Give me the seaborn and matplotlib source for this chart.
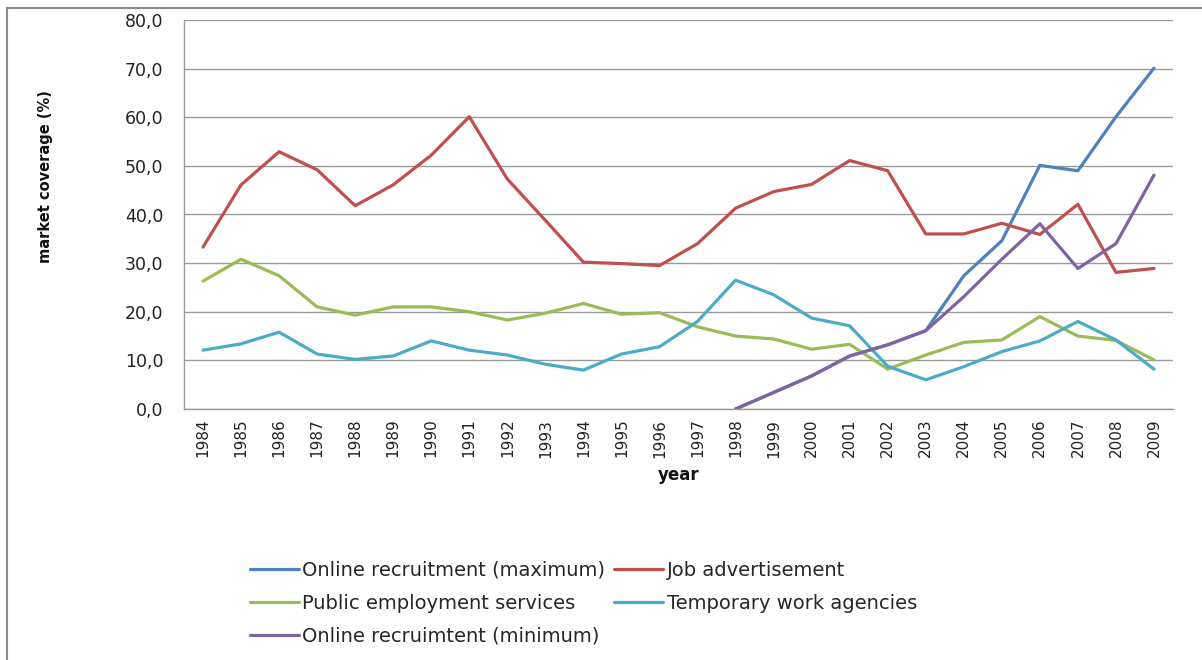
import numpy as np
import pandas as pd
import matplotlib
matplotlib.use("Agg")
import matplotlib.pyplot as plt
from matplotlib.patches import Rectangle
import seaborn as sns

# ---------------- data ----------------
years = list(range(1984, 2010))
nan = np.nan
online_max = [nan]*14 + [0.0, 3.4, 6.8, 10.9, 13.2, 16.1, 27.4, 34.6, 50.1, 49.0, 60.1, 70.1]
job_adv = [33.3, 46.1, 52.9, 49.2, 41.8, 46.1, 52.2, 60.1, 47.3, 38.8, 30.2, 29.9, 29.5,
           34.0, 41.3, 44.7, 46.2, 51.1, 49.0, 36.0, 36.0, 38.2, 35.9, 42.1, 28.1, 28.9]
public_emp = [26.3, 30.8, 27.4, 21.0, 19.3, 21.0, 21.0, 20.0, 18.3, 19.7, 21.7, 19.5, 19.8,
              16.9, 15.0, 14.4, 12.3, 13.3, 8.2, 11.1, 13.7, 14.2, 19.0, 15.0, 14.1, 10.1]
temp_work = [12.1, 13.4, 15.8, 11.3, 10.2, 10.9, 14.0, 12.1, 11.1, 9.2, 8.0, 11.3, 12.8,
             18.0, 26.5, 23.5, 18.7, 17.1, 8.8, 6.0, 8.7, 11.8, 14.0, 18.0, 14.2, 8.2]
online_min = [nan]*14 + [0.0, 3.4, 6.8, 10.9, 13.2, 16.1, 23.1, 30.8, 38.1, 28.9, 34.0, 48.1]

series_names = ["Online recruitment (maximum)", "Job advertisement",
                "Public employment services", "Temporary work agencies",
                "Online recruimtent (minimum)"]
series_values = [online_max, job_adv, public_emp, temp_work, online_min]
series_colors = ["#4F81BD", "#C0504D", "#9BBB59", "#4BACC6", "#8064A2"]

y_ticks = [0, 10, 20, 30, 40, 50, 60, 70, 80]
y_tick_labels = ["0,0", "10,0", "20,0", "30,0", "40,0", "50,0", "60,0", "70,0", "80,0"]
x_label = "year"
y_label = "market coverage (%)"

# ---------------- figure ----------------
sns.set_theme(style="white")
plt.rcParams["font.family"] = ["DejaVu Sans"]
narrow = ["DejaVu Sans Condensed", "DejaVu Sans"]

fig = plt.figure(figsize=(12.02, 6.6), dpi=100)
ax = fig.add_axes([184/1202, 1-409/660, (1173-184)/1202, (409-20)/660])

lines = {}
for name, vals, col in zip(series_names, series_values, series_colors):
    df = pd.DataFrame({"year": years, "value": vals})
    sns.lineplot(data=df, x="year", y="value", color=col, linewidth=2.3,
                 ax=ax, label=name, legend=False)
    lines[name] = ax.lines[-1]

ax.set_xlim(1983.5, 2009.5)
ax.set_ylim(0, 80)
ax.set_yticks(y_ticks)
ax.set_yticklabels(y_tick_labels, fontsize=12.5, color="#222222")
ax.set_xticks(years)
ax.set_xticklabels([str(y) for y in years], rotation=90, fontsize=11,
                   family=narrow, color="#222222")
ax.tick_params(axis="y", length=0, pad=15)
ax.tick_params(axis="x", length=0, pad=7)
ax.grid(axis="y", color="#9a9a9a", linewidth=1.0)
ax.grid(axis="x", visible=False)
ax.set_axisbelow(True)
for s in ["top", "right"]:
    ax.spines[s].set_visible(False)
for s in ["left", "bottom"]:
    ax.spines[s].set_color("#9a9a9a")
    ax.spines[s].set_linewidth(1.0)

ax.set_xlabel(x_label, fontsize=12, fontweight="bold", color="#111111")
ax.xaxis.label.set_va("center")
ax.xaxis.set_label_coords(0.5, (409-475)/389)
ax.set_ylabel(y_label, fontsize=10.5, fontweight="bold", color="#111111", family=narrow)
ax.yaxis.label.set_va("center")
ax.yaxis.set_label_coords((46-184)/989, (409-177)/389)

# legend (column-major fill -> order so rows match reference)
order = [series_names[0], series_names[2], series_names[4], series_names[1], series_names[3]]
fig.legend([lines[n] for n in order], order, loc="upper left",
           bbox_to_anchor=(250/1202, 1-561/660), ncol=2, frameon=False,
           fontsize=14, handlelength=2.5, handletextpad=0.2, columnspacing=0.45,
           labelspacing=0.72, borderpad=0, borderaxespad=0)

# outer chart-area border
fig.patches.append(Rectangle((7/1202, -0.05), 1.1, 1-8/660+0.05, transform=fig.transFigure,
                             fill=False, edgecolor="#8a8a8a", linewidth=1.5))

fig.savefig("out.png", dpi=100, facecolor="white")
